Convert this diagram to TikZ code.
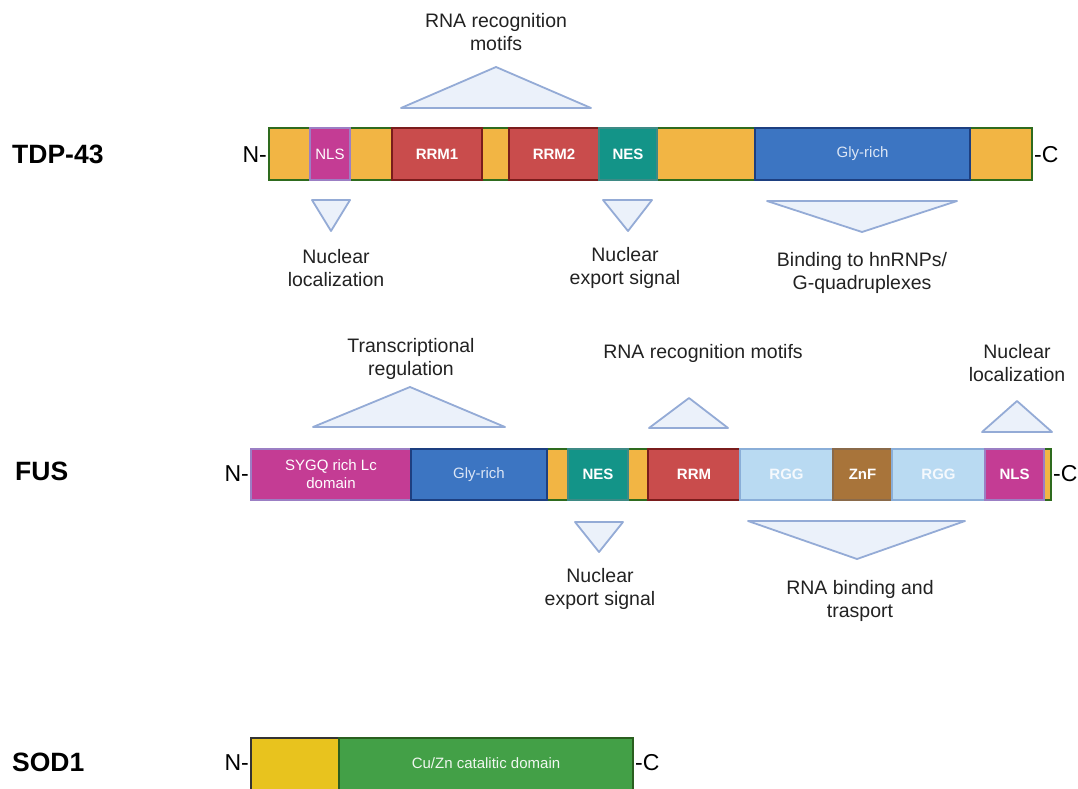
\documentclass[tikz,border=0pt]{standalone}
\usepackage{fontspec}
\setmainfont{Liberation Sans}
\definecolor{orng}{HTML}{F2B544}
\definecolor{barline}{HTML}{2E6B1E}
\definecolor{mag}{HTML}{C43C94}
\definecolor{magline}{HTML}{9B7FC4}
\definecolor{rrm}{HTML}{C94C4C}
\definecolor{rrmline}{HTML}{7A1C1C}
\definecolor{nes}{HTML}{139488}
\definecolor{nesline}{HTML}{3E8A85}
\definecolor{gly}{HTML}{3C75C2}
\definecolor{glyline}{HTML}{1D3F80}
\definecolor{glytext}{HTML}{DCE6F5}
\definecolor{rgg}{HTML}{B9DAF2}
\definecolor{rggline}{HTML}{8AAED8}
\definecolor{znf}{HTML}{A8743A}
\definecolor{znfline}{HTML}{8A6A4A}
\definecolor{sodyel}{HTML}{E8C31E}
\definecolor{sodgreen}{HTML}{43A047}
\definecolor{sodline}{HTML}{2A5F1F}
\definecolor{trifill}{HTML}{EBF1FA}
\definecolor{triline}{HTML}{94ABD6}
\definecolor{txt}{HTML}{222222}
\tikzset{
  segbox/.style={inner sep=0pt, outer sep=0pt, line width=1.6pt, align=center, text=white},
  tri/.style={draw=triline, fill=trifill, line width=1.8pt, line join=round},
  lab/.style={inner sep=0pt, align=center, text=txt, font=\fontsize{19.5}{23}\selectfont},
  term/.style={inner sep=0pt, text=black, font=\fontsize{23}{27}\selectfont},
  prot/.style={inner sep=0pt, anchor=west, text=black, font=\fontsize{26.5}{30}\selectfont\bfseries},
  rg/.style={font=\fontsize{15}{18}\selectfont},
  bd/.style={font=\fontsize{15}{18}\selectfont\bfseries},
}
\newcommand\segnode[7]{%
  \node[segbox,#6,minimum width={(#3-#2)*1pt},minimum height={(#5-#4)*1pt}] (#1) at ({(#2+#3)/2},{(#4+#5)/2}) {#7};}
\begin{document}
\begin{tikzpicture}[x=1pt,y=-1pt]
\clip (0,0) rectangle (1078,789);
\fill[white] (0,0) rectangle (1078,789);

% ---------------- TDP-43 ----------------
\node[prot] (tdp) at (12,154) {TDP-43};
\segnode{tdpbar}{269}{1032}{128}{180}{fill=orng,draw=barline}{}
\segnode{tnls}{310}{350}{128}{180}{fill=mag,draw=magline,rg}{NLS}
\segnode{trrm1}{392}{482}{128}{180}{fill=rrm,draw=rrmline,bd}{RRM1}
\segnode{trrm2}{509}{599}{128}{180}{fill=rrm,draw=rrmline,bd}{RRM2}
\segnode{tnes}{599}{657}{128}{180}{fill=nes,draw=nesline,bd}{NES}
\segnode{tgly}{755}{970}{128}{180}{fill=gly,draw=glyline,rg,text=glytext}{Gly-rich}
\node[term,anchor=east] (tN) at (267,155) {N-};
\node[term,anchor=west] (tC) at (1034,155) {-C};

\draw[tri] (401,108) -- (496,67) -- (591,108) -- cycle;
\node[lab] (tl1) at (496,32) {RNA recognition\\motifs};
\draw[tri] (312,200) -- (350,200) -- (331,231) -- cycle;
\node[lab] (tl2) at (336,268) {Nuclear\\localization};
\draw[tri] (603,200) -- (652,200) -- (628,231) -- cycle;
\node[lab] (tl3) at (625,268) {Nuclear\\export signal};
\draw[tri] (767,201) -- (957,201) -- (862,232) -- cycle;
\node[lab] (tl4) at (862,273) {Binding to hnRNPs/\\G-quadruplexes};

% ---------------- FUS ----------------
\node[prot] (fus) at (15,471) {FUS};
\segnode{fusbar}{251}{1051}{449}{500}{fill=orng,draw=barline}{}
\segnode{fsyg}{251}{411}{449}{500}{fill=mag,draw=magline,rg}{SYGQ rich Lc\\domain}
\segnode{fgly}{411}{547}{449}{500}{fill=gly,draw=glyline,rg,text=glytext}{Gly-rich}
\segnode{fnes}{568}{628}{449}{500}{fill=nes,draw=nesline,bd}{NES}
\segnode{frrm}{648}{740}{449}{500}{fill=rrm,draw=rrmline,bd}{RRM}
\segnode{frgg1}{740}{833}{449}{500}{fill=rgg,draw=rggline,bd,text=white!85!rgg}{RGG}
\segnode{fznf}{833}{892}{449}{500}{fill=znf,draw=znfline,bd}{ZnF}
\segnode{frgg2}{892}{985}{449}{500}{fill=rgg,draw=rggline,bd,text=white!85!rgg}{RGG}
\segnode{fnls}{985}{1044}{449}{500}{fill=mag,draw=magline,bd}{NLS}
\node[term,anchor=east] (fN) at (249,474) {N-};
\node[term,anchor=west] (fC) at (1053,474) {-C};

\draw[tri] (313,427) -- (410,387) -- (505,427) -- cycle;
\node[lab] (fl1) at (411,359) {Transcriptional\\regulation};
\draw[tri] (649,428) -- (689,398) -- (728,428) -- cycle;
\node[lab] (fl2) at (703,353) {RNA recognition motifs};
\draw[tri] (982,432) -- (1017,401) -- (1052,432) -- cycle;
\node[lab] (fl3) at (1017,363) {Nuclear\\localization};
\draw[tri] (575,522) -- (623,522) -- (599,552) -- cycle;
\node[lab] (fl4) at (600,589) {Nuclear\\export signal};
\draw[tri] (748,521) -- (965,521) -- (857,559) -- cycle;
\node[lab] (fl5) at (860,601) {RNA binding and\\trasport};

% ---------------- SOD1 ----------------
\node[prot] (sod) at (12,762) {SOD1};
\segnode{syel}{251}{339}{738}{795}{fill=sodyel,draw=black!80}{}
\segnode{sgreen}{339}{633}{738}{795}{fill=sodgreen,draw=sodline}{}
\node[rg,text=white!92!sodgreen] (stext) at (486,763) {Cu/Zn catalitic domain};
\node[term,anchor=east] (sN) at (249,763) {N-};
\node[term,anchor=west] (sC) at (635,763) {-C};
\end{tikzpicture}
\end{document}
